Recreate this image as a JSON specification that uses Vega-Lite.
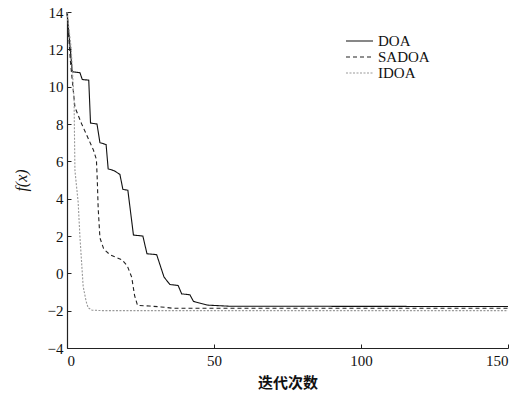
{
  "$schema": "https://vega.github.io/schema/vega-lite/v6.json",
  "width": 441,
  "height": 336,
  "autosize": "none",
  "padding": {"left": 67, "top": 12, "right": 12, "bottom": 51},
  "background": "white",
  "config": {
    "view": {"stroke": null},
    "font": "Liberation Serif",
    "axis": {"grid": false, "domainColor": "#222", "tickColor": "#222", "labelColor": "#111", "titleColor": "#111", "labelFont": "Liberation Serif", "labelFontSize": 15, "tickSize": -4, "domainWidth": 1.2}
  },
  "data": {"values": [
    {"s":"DOA","x":0,"y":14},{"s":"DOA","x":1.8,"y":10.8},{"s":"DOA","x":4.4,"y":10.75},{"s":"DOA","x":5.2,"y":10.38},{"s":"DOA","x":7.4,"y":10.35},{"s":"DOA","x":8.0,"y":8.05},{"s":"DOA","x":10.2,"y":8.0},{"s":"DOA","x":11.2,"y":7.0},{"s":"DOA","x":13.3,"y":6.9},{"s":"DOA","x":14.0,"y":5.6},{"s":"DOA","x":16.0,"y":5.5},{"s":"DOA","x":18.0,"y":5.3},{"s":"DOA","x":19.0,"y":4.5},{"s":"DOA","x":20.7,"y":4.45},{"s":"DOA","x":22.6,"y":2.05},{"s":"DOA","x":25.8,"y":2.0},{"s":"DOA","x":27.2,"y":1.05},{"s":"DOA","x":30.5,"y":1.0},{"s":"DOA","x":33.0,"y":-0.2},{"s":"DOA","x":35.0,"y":-0.6},{"s":"DOA","x":37.8,"y":-0.65},{"s":"DOA","x":39.0,"y":-1.1},{"s":"DOA","x":41.8,"y":-1.15},{"s":"DOA","x":43.0,"y":-1.5},{"s":"DOA","x":47.6,"y":-1.7},{"s":"DOA","x":55,"y":-1.76},{"s":"DOA","x":150,"y":-1.78},
    {"s":"SADOA","x":0,"y":14},{"s":"SADOA","x":1.2,"y":11.3},{"s":"SADOA","x":2.0,"y":10.0},{"s":"SADOA","x":2.7,"y":8.9},{"s":"SADOA","x":5.0,"y":8.0},{"s":"SADOA","x":7.0,"y":7.3},{"s":"SADOA","x":9.0,"y":6.6},{"s":"SADOA","x":10.0,"y":6.1},{"s":"SADOA","x":10.3,"y":5.0},{"s":"SADOA","x":10.6,"y":3.5},{"s":"SADOA","x":11.2,"y":1.9},{"s":"SADOA","x":12.5,"y":1.3},{"s":"SADOA","x":14.6,"y":1.0},{"s":"SADOA","x":18.7,"y":0.72},{"s":"SADOA","x":20.5,"y":0.4},{"s":"SADOA","x":22.0,"y":-0.2},{"s":"SADOA","x":23.0,"y":-1.2},{"s":"SADOA","x":24.0,"y":-1.72},{"s":"SADOA","x":28,"y":-1.75},{"s":"SADOA","x":32,"y":-1.8},{"s":"SADOA","x":36,"y":-1.87},{"s":"SADOA","x":150,"y":-1.87},
    {"s":"IDOA","x":0,"y":14},{"s":"IDOA","x":1.4,"y":12.1},{"s":"IDOA","x":2.4,"y":9.3},{"s":"IDOA","x":2.7,"y":5.5},{"s":"IDOA","x":3.8,"y":3.8},{"s":"IDOA","x":4.4,"y":1.95},{"s":"IDOA","x":5.5,"y":-0.7},{"s":"IDOA","x":6.5,"y":-1.5},{"s":"IDOA","x":7.2,"y":-1.85},{"s":"IDOA","x":8.5,"y":-1.97},{"s":"IDOA","x":12,"y":-2.0},{"s":"IDOA","x":150,"y":-2.0}
  ]},
  "mark": {"type": "line", "strokeWidth": 1.1},
  "encoding": {
    "x": {"field": "x", "type": "quantitative", "scale": {"domain": [0, 150], "nice": false, "zero": false},
      "axis": {"values": [0, 50, 100, 150], "title": "迭代次数", "labelFont": "Liberation Serif", "labelFontSize": 15, "titleFont": "Noto Sans CJK SC", "titleFontWeight": "bold", "titleFontSize": 15, "labelPadding": 9, "titlePadding": 7}},
    "y": {"field": "y", "type": "quantitative", "scale": {"domain": [-4, 14], "nice": false, "zero": false},
      "axis": {"values": [-4, -2, 0, 2, 4, 6, 8, 10, 12, 14], "title": "f(x)", "labelFont": "Liberation Serif", "labelFontSize": 15, "titleFont": "Liberation Serif", "titleFontStyle": "italic", "titleFontWeight": "normal", "titleFontSize": 16, "labelPadding": 8, "titlePadding": 18}},
    "color": {"field": "s", "type": "nominal", "scale": {"domain": ["DOA", "SADOA", "IDOA"], "range": ["#111111", "#222222", "#999999"]},
      "legend": {"orient": "none", "legendX": 278, "legendY": 21, "title": null, "symbolType": "stroke", "symbolSize": 729, "clipHeight": 16, "symbolStrokeWidth": 1.2, "labelFont": "Liberation Serif", "labelFontSize": 15, "labelColor": "#111", "rowPadding": 0, "padding": 0, "labelOffset": 4}},
    "strokeDash": {"field": "s", "type": "nominal", "scale": {"domain": ["DOA", "SADOA", "IDOA"], "range": [[1, 0], [4, 3], [2, 1.5]]}, "legend": null}
  }
}
